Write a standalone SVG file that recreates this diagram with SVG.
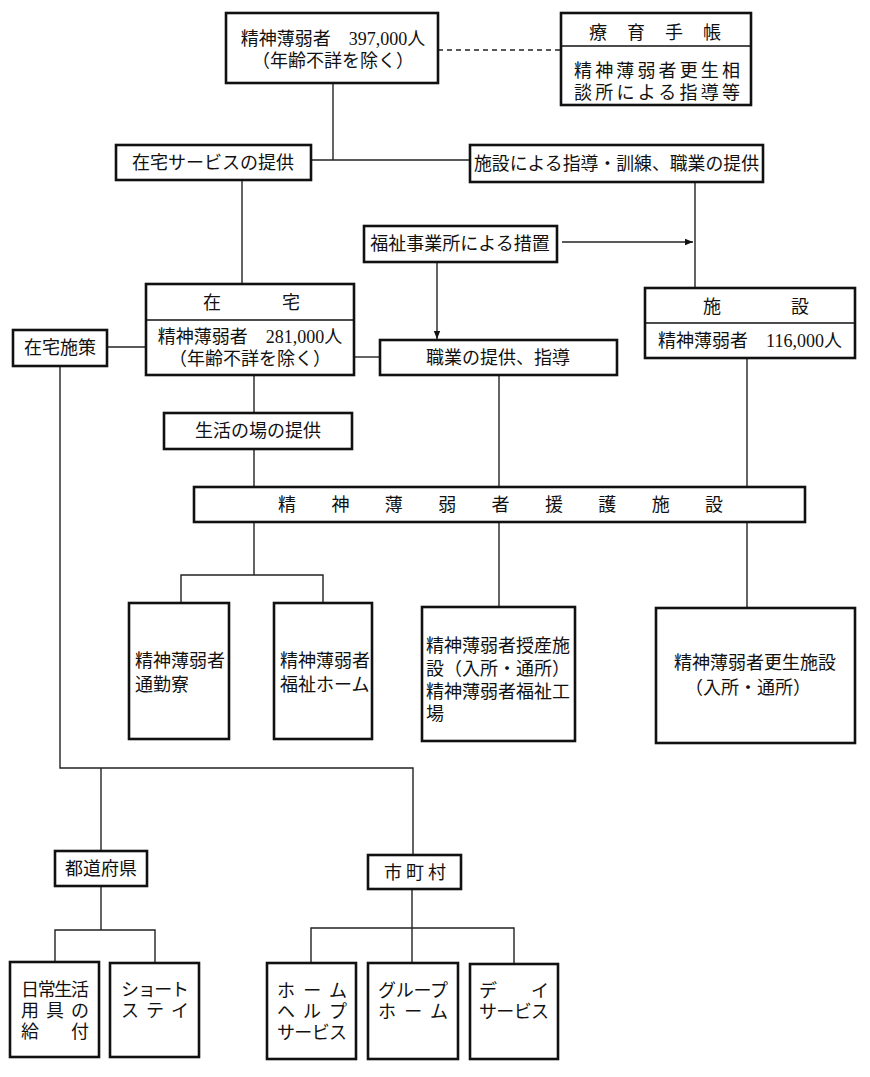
<svg xmlns="http://www.w3.org/2000/svg" width="870" height="1077" viewBox="0 0 870 1077">
<style>
.b{fill:#fff;stroke:#111;stroke-width:2.6}
.d{stroke:#111;stroke-width:1.6;fill:none}
.c{stroke:#222;stroke-width:1.4;fill:none}
text{font-family:"Liberation Serif","Noto Sans CJK JP",serif;font-size:18px;fill:#111}
.m{text-anchor:middle}
</style>
<defs>
<marker id="ah" viewBox="0 0 10 10" refX="10" refY="5" markerWidth="8" markerHeight="8" orient="auto" markerUnits="userSpaceOnUse">
<path d="M0,1 L10,5 L0,9 z" fill="#111"/>
</marker>
</defs>
<rect width="870" height="1077" fill="#fff"/>
<g id="connectors">
<path class="c" d="M438,50 H561" stroke-dasharray="5,4"/>
<path class="c" d="M333,83 V160"/>
<path class="c" d="M311,160 H470"/>
<path class="c" d="M242,180 V284"/>
<path class="c" d="M695,182 V288"/>
<path class="c" d="M562,242 H693" marker-end="url(#ah)"/>
<path class="c" d="M437,262 V339" marker-end="url(#ah)"/>
<path class="c" d="M107,347 H146"/>
<path class="c" d="M354,357 H380"/>
<path class="c" d="M254,375 V413"/>
<path class="c" d="M254,449 V487"/>
<path class="c" d="M499,375 V487"/>
<path class="c" d="M747,358 V487"/>
<path class="c" d="M254,522 V575"/>
<path class="c" d="M181,603 V575 H323 V603"/>
<path class="c" d="M499,522 V607"/>
<path class="c" d="M747,522 V608"/>
<path class="c" d="M60,366 V768 H413 V855"/>
<path class="c" d="M101,768 V851"/>
<path class="c" d="M101,886 V930"/>
<path class="c" d="M55,962 V930 H155 V963"/>
<path class="c" d="M412,889 V928"/>
<path class="c" d="M311,963 V928 H514 V964"/>
<path class="c" d="M412,928 V963"/>
</g>
<g id="n-total">
<rect class="b" x="226" y="13" width="212" height="70"/>
<text class="m" x="333" y="45">精神薄弱者　397,000人</text>
<text class="m" x="333" y="67">（年齢不詳を除く）</text>
</g>
<g id="n-techo">
<rect class="b" x="561" y="13" width="190" height="92"/>
<path class="d" d="M561,46 H751"/>
<text x="589" y="39" textLength="132" lengthAdjust="spacing">療育手帳</text>
<text x="574" y="77" textLength="166" lengthAdjust="spacing">精神薄弱者更生相</text>
<text x="574" y="99" textLength="166" lengthAdjust="spacing">談所による指導等</text>
</g>
<g id="n-zaitaku-service">
<rect class="b" x="116" y="145" width="195" height="35"/>
<text class="m" x="213" y="169">在宅サービスの提供</text>
</g>
<g id="n-shisetsu-shido">
<rect class="b" x="470" y="145" width="293" height="37"/>
<text x="474" y="170" textLength="285" lengthAdjust="spacingAndGlyphs">施設による指導・訓練、職業の提供</text>
</g>
<g id="n-fukushi">
<rect class="b" x="364" y="226" width="193" height="36"/>
<text class="m" x="460" y="250">福祉事業所による措置</text>
</g>
<g id="n-zaitaku">
<rect class="b" x="146" y="284" width="208" height="91"/>
<path class="d" d="M146,320 H354"/>
<text x="203" y="309" textLength="97" lengthAdjust="spacing">在宅</text>
<text class="m" x="250" y="343">精神薄弱者　281,000人</text>
<text class="m" x="250" y="365">（年齢不詳を除く）</text>
</g>
<g id="n-zaitaku-shisaku">
<rect class="b" x="13" y="330" width="94" height="36"/>
<text class="m" x="60" y="354">在宅施策</text>
</g>
<g id="n-shokugyo">
<rect class="b" x="380" y="340" width="237" height="35"/>
<text class="m" x="498" y="364">職業の提供、指導</text>
</g>
<g id="n-shisetsu">
<rect class="b" x="645" y="288" width="210" height="70"/>
<path class="d" d="M645,323 H855"/>
<text x="703" y="313" textLength="106" lengthAdjust="spacing">施設</text>
<text class="m" x="750" y="347">精神薄弱者　116,000人</text>
</g>
<g id="n-seikatsu">
<rect class="b" x="164" y="413" width="188" height="36"/>
<text class="m" x="258" y="437">生活の場の提供</text>
</g>
<g id="n-engo">
<rect class="b" x="194" y="487" width="611" height="35"/>
<text x="278" y="511" textLength="445" lengthAdjust="spacing">精神薄弱者援護施設</text>
</g>
<g id="n-tsukinryo">
<rect class="b" x="129" y="603" width="100" height="136"/>
<text x="135" y="667">精神薄弱者</text>
<text x="135" y="691">通勤寮</text>
</g>
<g id="n-fukushihome">
<rect class="b" x="274" y="603" width="98" height="136"/>
<text x="280" y="667">精神薄弱者</text>
<text x="280" y="691">福祉ホーム</text>
</g>
<g id="n-jusan">
<rect class="b" x="422" y="607" width="153" height="134"/>
<text x="426" y="652">精神薄弱者授産施</text>
<text x="426" y="675">設（入所・通所）</text>
<text x="426" y="698">精神薄弱者福祉工</text>
<text x="426" y="720">場</text>
</g>
<g id="n-kosei">
<rect class="b" x="656" y="608" width="199" height="135"/>
<text class="m" x="755" y="669">精神薄弱者更生施設</text>
<text class="m" x="748" y="694">（入所・通所）</text>
</g>
<g id="n-todofuken">
<rect class="b" x="55" y="851" width="92" height="35"/>
<text class="m" x="101" y="875">都道府県</text>
</g>
<g id="n-shichoson">
<rect class="b" x="368" y="855" width="93" height="34"/>
<text x="384" y="879" textLength="62" lengthAdjust="spacing">市町村</text>
</g>
<g id="n-nichijo">
<rect class="b" x="10" y="962" width="89" height="95"/>
<text x="21" y="996" textLength="68" lengthAdjust="spacing">日常生活</text>
<text x="21" y="1017" textLength="68" lengthAdjust="spacing">用具の</text>
<text x="21" y="1038" textLength="68" lengthAdjust="spacing">給付</text>
</g>
<g id="n-short">
<rect class="b" x="110" y="963" width="89" height="94"/>
<text x="121" y="996" textLength="68" lengthAdjust="spacing">ショート</text>
<text x="121" y="1017" textLength="68" lengthAdjust="spacing">ステイ</text>
</g>
<g id="n-homehelp">
<rect class="b" x="267" y="963" width="89" height="96"/>
<text x="277" y="997" textLength="70" lengthAdjust="spacing">ホーム</text>
<text x="277" y="1018" textLength="70" lengthAdjust="spacing">ヘルプ</text>
<text x="277" y="1039" textLength="70" lengthAdjust="spacing">サービス</text>
</g>
<g id="n-grouphome">
<rect class="b" x="368" y="963" width="90" height="96"/>
<text x="378" y="997" textLength="70" lengthAdjust="spacing">グループ</text>
<text x="378" y="1018" textLength="70" lengthAdjust="spacing">ホーム</text>
</g>
<g id="n-day">
<rect class="b" x="470" y="964" width="88" height="95"/>
<text x="479" y="997" textLength="70" lengthAdjust="spacing">デイ</text>
<text x="479" y="1018" textLength="70" lengthAdjust="spacing">サービス</text>
</g>
</svg>
